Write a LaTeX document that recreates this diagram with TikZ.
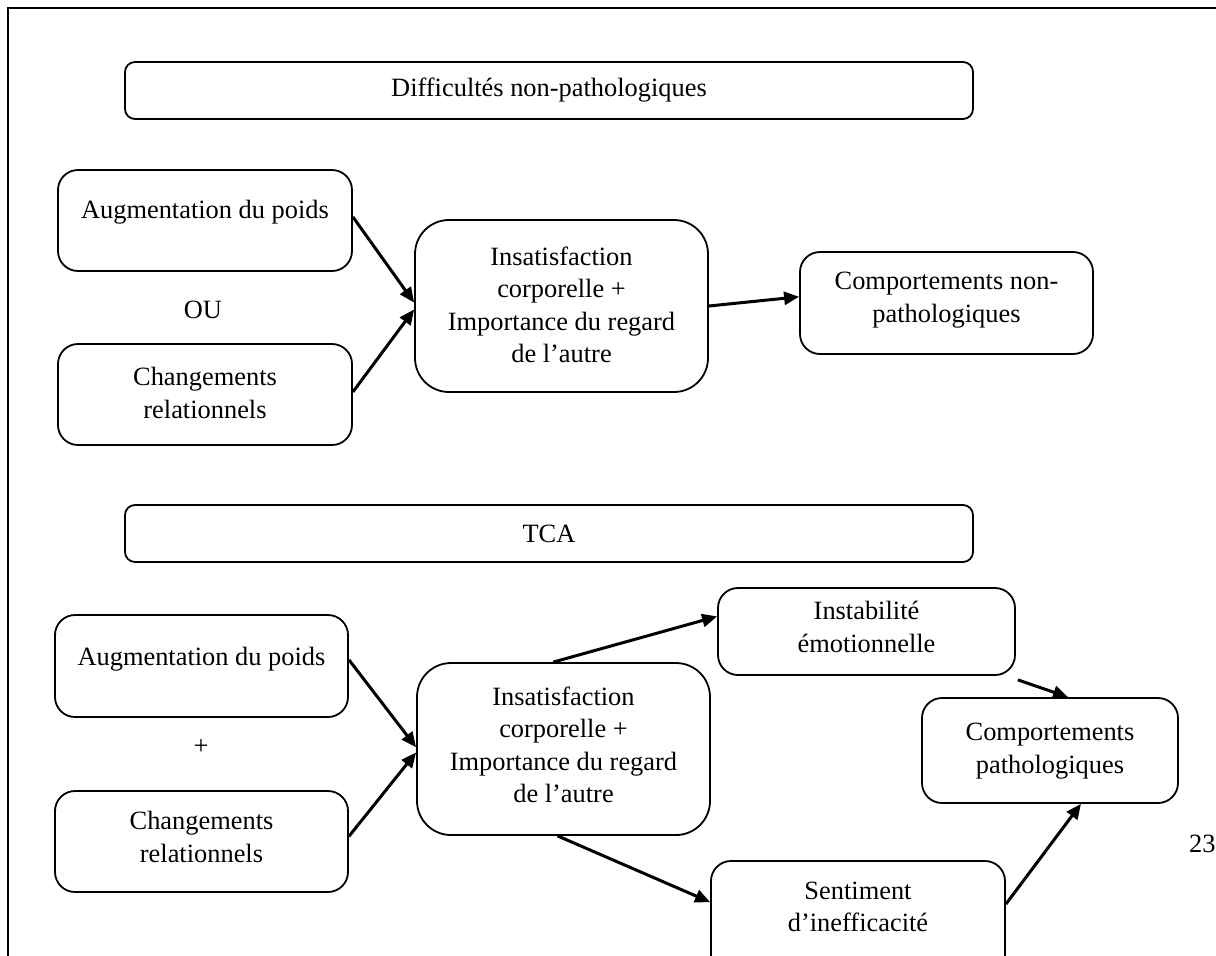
\documentclass[tikz,border=0pt]{standalone}
\usepackage{fontspec}
\setmainfont{Liberation Serif}
\usetikzlibrary{arrows.meta,calc}
\begin{document}
\begin{tikzpicture}[x=0.5pt,y=-0.5pt,
  every node/.style={font=\fontsize{13.2}{16.2}\selectfont, inner sep=0pt},
  bx/.style={draw, line width=0.9pt, rounded corners=#1, inner sep=0pt},
  txt/.style={align=center},
  arr/.style={line width=1.5pt, -{Triangle[length=7.5pt,width=6.5pt]}}]
\useasboundingbox (0,0) rectangle (1216,955);
\clip (0,0) rectangle (1216,955);
\fill[white] (0,0) rectangle (1216,955);
% outer frame
\coordinate (fbl) at (8,1000);
\coordinate (ftl) at (8,8);
\coordinate (ftr) at (1230,8);
\draw[line width=1.1pt] (fbl) -- (ftl) -- (ftr);

% upper part
\node[bx=5pt, minimum width=424pt, minimum height=28.5pt] (t1) at (549,90.5) {};
\node[txt] (t1t) at (t1.center) {Difficultés non-pathologiques};
\node[bx=10pt, minimum width=147pt, minimum height=50.5pt] (a1) at (205,220.5) {};
\node[txt] (a1t) at (205,212) {Augmentation du poids};
\node (ou) at (203,310) {OU};
\node[bx=10pt, minimum width=147pt, minimum height=50.5pt] (c1) at (205,394.5) {};
\node[txt] (c1t) at (205,393) {Changements\\relationnels};
\node[bx=17pt, minimum width=146.5pt, minimum height=86pt] (i1) at (561.5,306) {};
\node[txt] (i1t) at (561.5,305) {Insatisfaction\\corporelle +\\Importance du regard\\de l’autre};
\node[bx=10pt, minimum width=146.5pt, minimum height=51pt] (p1) at (946.5,303) {};
\node[txt] (p1t) at (946.5,300) {Comportements non-\\pathologiques};

\draw[arr] ($(a1.north east)!0.465!(a1.south east)$) -- ($(i1.north west)!0.48!(i1.south west)$);
\draw[arr] ($(c1.north east)!0.475!(c1.south east)$) -- ($(i1.north west)!0.52!(i1.south west)$);
\draw[arr] (i1.east) -- ($(p1.north west)!0.44!(p1.south west)$);

% lower part
\node[bx=5pt, minimum width=424pt, minimum height=28.5pt] (t2) at (549,533.5) {};
\node[txt] (t2t) at (t2.center) {TCA};
\node[bx=10pt, minimum width=146.5pt, minimum height=51pt] (a2) at (201.5,666) {};
\node[txt] (a2t) at (201.5,659) {Augmentation du poids};
\node (plus) at (201,747) {+};
\node[bx=10pt, minimum width=146.5pt, minimum height=50.5pt] (c2) at (201.5,841.5) {};
\node[txt] (c2t) at (201.5,837) {Changements\\relationnels};
\node[bx=17pt, minimum width=146.5pt, minimum height=86pt] (i2) at (563.5,749) {};
\node[txt] (i2t) at (563.5,745) {Insatisfaction\\corporelle +\\Importance du regard\\de l’autre};
\node[bx=10pt, minimum width=148.5pt, minimum height=43.5pt] (ins) at (866.5,631.5) {};
\node[txt] (inst) at (866.5,627) {Instabilité\\émotionnelle};
\node[bx=10pt, minimum width=128pt, minimum height=52.5pt] (p2) at (1050,750.5) {};
\node[txt] (p2t) at (1050,751) {Comportements\\pathologiques};
\node[bx=10pt, minimum width=147pt, minimum height=59.5pt] (sen) at (858,920.5) {};
\node[txt] (sent) at (858,907) {Sentiment\\d’inefficacité};

\draw[arr] ($(a2.north east)!0.44!(a2.south east)$) -- ($(i2.north west)!0.49!(i2.south west)$);
\draw[arr] ($(c2.north east)!0.45!(c2.south east)$) -- ($(i2.north west)!0.52!(i2.south west)$);
\draw[arr] ($(i2.north west)!0.465!(i2.north east)$) -- ($(ins.north west)!0.33!(ins.south west)$);
\draw[arr] ($(i2.south west)!0.48!(i2.south east)$) -- ($(sen.north west)+(0,42)$);
\draw[arr] ($(ins.south east)+(2,4)$) -- ($(p2.north west)!0.57!(p2.north east)$);
\draw[arr] ($(sen.north east)+(0,44)$) -- ($(p2.south west)!0.62!(p2.south east)$);

\node[anchor=base east] (pg) at (1216,852) {23};
\end{tikzpicture}
\end{document}
